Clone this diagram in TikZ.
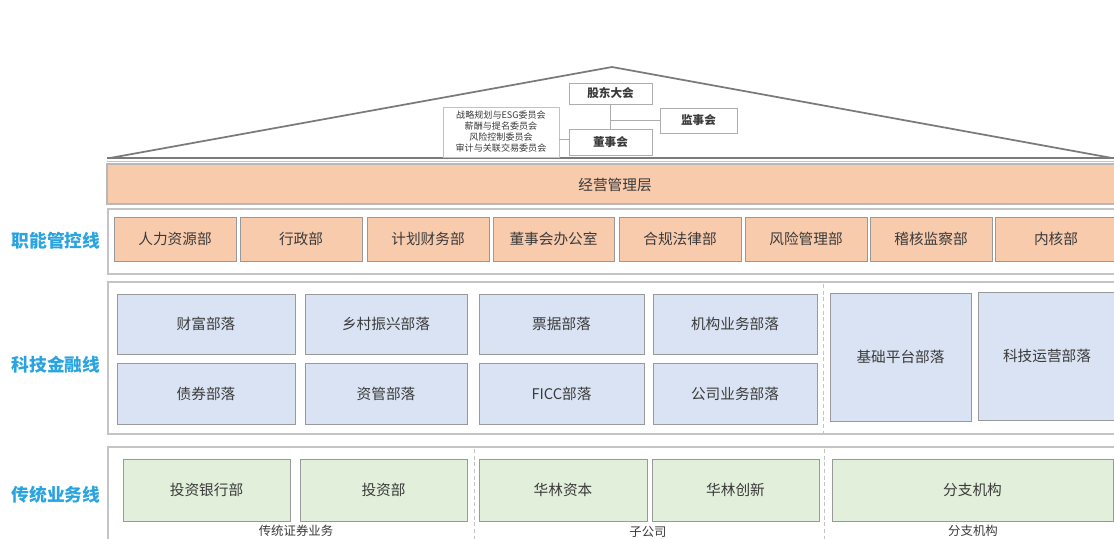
\documentclass[tikz,border=0pt]{standalone}
\usepackage{fontspec}
\newfontfamily\cjk{Noto Sans CJK SC}
\usetikzlibrary{fit}
\definecolor{orangef}{HTML}{F8CBAD}
\definecolor{bluef}{HTML}{DAE3F3}
\definecolor{greenf}{HTML}{E2EFDA}
\definecolor{edgeg}{HTML}{999999}
\definecolor{outerg}{HTML}{C4C4C4}
\definecolor{roofg}{HTML}{7A7A7A}
\definecolor{txtg}{HTML}{3A3A3A}
\definecolor{lineblue}{HTML}{2AA4DF}
\newcommand\boxat[7]{\node[#2, fit={(#3,#4) (#5,#6)}] (#1) {};
  \node[#2, draw=none, fill=none, anchor=center] (#1t) at (#1.center) {#7};}
\tikzset{
  x=0.75pt, y=-0.75pt,
  every node/.style={text=txtg},
  cell/.style={draw=edgeg, line width=0.75pt, inner sep=0pt, font=\cjk\fontsize{11}{13}\selectfont},
  ocell/.style={cell, fill=orangef},
  bcell/.style={cell, fill=bluef},
  gcell/.style={cell, fill=greenf},
  gov/.style={draw=edgeg!80, line width=0.7pt, fill=white, inner sep=0pt, font=\cjk\bfseries\fontsize{8.7}{10}\selectfont},
  comm/.style={draw=edgeg!60, line width=0.6pt, fill=white, inner sep=0pt, align=center, font=\cjk\fontsize{6.8}{8.25}\selectfont},
  outer/.style={draw=outerg, line width=0.8pt, fill=white, inner sep=0pt},
  band/.style={draw=edgeg!70, line width=0.8pt, fill=orangef, inner sep=0pt, font=\cjk\fontsize{11}{13}\selectfont},
  linelabel/.style={font=\cjk\bfseries\fontsize{13.3}{15}\selectfont, text=lineblue},
  sublabel/.style={font=\cjk\fontsize{9.3}{11}\selectfont},
  sep/.style={draw=outerg, dashed, dash pattern=on 3pt off 2pt, line width=0.6pt},
  conn/.style={draw=edgeg!80, line width=0.6pt},
  roof/.style={draw=roofg, line width=1.3pt}
}
\begin{document}
\begin{tikzpicture}
\clip (0,0) rectangle (1114,539);
\fill[white] (0,0) rectangle (1114,539);

% roof
\coordinate (rl) at (110,158);
\coordinate (apex) at (612,67);
\coordinate (rr) at (1112,158);
\draw[roof] (rl) -- (apex) -- (rr);
\coordinate (bl) at (107,158);
\coordinate (br) at (1114,158);
\draw[roof, line width=1.1pt] (bl) -- (br);
\draw[draw=outerg, line width=0.8pt] ([yshift=-2.4pt]bl) -- ([yshift=-2.4pt]br);

% governance
\boxat{gd}{gov}{569}{83}{652}{104}{股东大会}
\boxat{js}{gov}{660}{108}{737}{133}{监事会}
\boxat{ds}{gov}{569}{129}{652}{155}{董事会}
\boxat{wy}{comm}{443}{107}{559}{157}{战略规划与ESG委员会\\薪酬与提名委员会\\风险控制委员会\\审计与关联交易委员会}
\draw[conn] (gd.south) -- (ds.north);
\draw[conn] (gd.south |- js.west) -- (js.west);
\draw[conn] (wy.east |- 0,139) -- (ds.west |- 0,139);

% management band
\boxat{jy}{band}{107}{164}{1120}{204}{}
\node[font=\cjk\fontsize{11}{13}\selectfont] (jyt2) at (615,185) {经营管理层};

% outer row frames
\boxat{fo}{outer}{108}{209}{1122}{274}{}
\boxat{to}{outer}{108}{282}{1122}{434}{}
\boxat{co}{outer}{108}{447}{1122}{560}{}

% line labels
\node[linelabel] (l1) at (56,241) {职能管控线};
\node[linelabel] (l2) at (56,365) {科技金融线};
\node[linelabel] (l3) at (56,495) {传统业务线};

% functional departments
\boxat{o1}{ocell}{114}{217}{236}{261}{人力资源部}
\boxat{o2}{ocell}{240}{217}{362}{261}{行政部}
\boxat{o3}{ocell}{367}{217}{489}{261}{计划财务部}
\boxat{o4}{ocell}{493}{217}{614}{261}{董事会办公室}
\boxat{o5}{ocell}{619}{217}{741}{261}{合规法律部}
\boxat{o6}{ocell}{745}{217}{867}{261}{风险管理部}
\boxat{o7}{ocell}{870}{217}{992}{261}{稽核监察部}
\boxat{o8}{ocell}{995}{217}{1117}{261}{内核部}

% tech finance
\boxat{b1}{bcell}{117}{294}{295}{354}{财富部落}
\boxat{b2}{bcell}{305}{294}{467}{354}{乡村振兴部落}
\boxat{b3}{bcell}{479}{294}{644}{354}{票据部落}
\boxat{b4}{bcell}{653}{294}{817}{354}{机构业务部落}
\boxat{b5}{bcell}{117}{363}{295}{424}{债券部落}
\boxat{b6}{bcell}{305}{363}{467}{424}{资管部落}
\boxat{b7}{bcell}{479}{363}{644}{424}{FICC部落}
\boxat{b8}{bcell}{653}{363}{817}{424}{公司业务部落}
\boxat{b9}{bcell}{830}{293}{971}{421}{基础平台部落}
\boxat{b10}{bcell}{978}{292}{1116}{420}{科技运营部落}
\coordinate (s1a) at (823,284);
\coordinate (s1b) at (823,433);
\draw[sep] (s1a) -- (s1b);

% traditional business
\boxat{g1}{gcell}{123}{459}{290}{521}{投资银行部}
\boxat{g2}{gcell}{300}{459}{467}{521}{投资部}
\boxat{g3}{gcell}{479}{459}{647}{521}{华林资本}
\boxat{g4}{gcell}{652}{459}{819}{521}{华林创新}
\boxat{g5}{gcell}{832}{459}{1113}{521}{分支机构}
\coordinate (s2a) at (474,449);
\coordinate (s2b) at (474,539);
\coordinate (s3a) at (824,449);
\coordinate (s3b) at (824,539);
\draw[sep] (s2a) -- (s2b);
\draw[sep] (s3a) -- (s3b);
\node[sublabel] (t1) at (296,531) {传统证券业务};
\node[sublabel] (t2) at (648,532) {子公司};
\node[sublabel] (t3) at (973,531) {分支机构};
\end{tikzpicture}
\end{document}
